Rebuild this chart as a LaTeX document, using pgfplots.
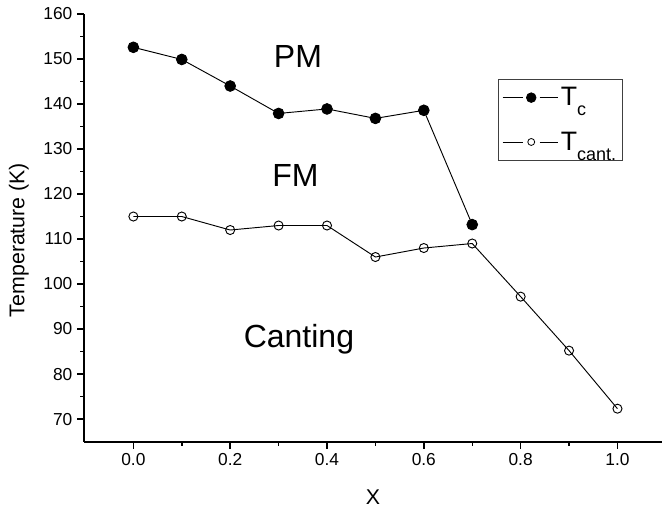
\documentclass[border=0pt]{standalone}
\usepackage{fontspec}
\setmainfont{Liberation Sans}
\usepackage{pgfplots}
\pgfplotsset{compat=1.18}

\newcommand{\setfs}[1]{\fontsize{#1}{#1}\selectfont}

\begin{document}
\begin{tikzpicture}
  \begin{axis}[
    at={(0,0)}, anchor=south west,
    scale only axis,
    width=433.5pt, height=321pt,
    clip=false,
    xmin=-0.102, xmax=1.092,
    ymin=64.9, ymax=160,
    axis lines=left,
    axis line style={-, line width=1.4pt},
    xtick={0,0.2,0.4,0.6,0.8,1.0},
    ytick={70,80,90,100,110,120,130,140,150,160},
    minor tick num=1,
    tick align=outside,
    major tick length=5.2pt,
    minor tick length=2.8pt,
    every tick/.style={black, line width=1.1pt},
    /pgf/number format/assume math mode=true,
    xticklabel style={/pgf/number format/.cd, fixed, fixed zerofill, precision=1},
    tick label style={font=\setfs{13}},
    legend style={at={(axis description cs:0.716,0.848)}, anchor=north west,
      draw=black!75, line width=0.6pt, inner xsep=3pt, inner ysep=4pt,
      row sep=14pt, font=\setfs{20}},
    legend cell align=left,
  ]
    \addlegendimage{legend image code/.code={
      \draw[black, line width=0.7pt] (0pt,0pt)--(15pt,0pt) (27.75pt,0pt)--(41.25pt,0pt);
      \fill[black] (21.4pt,0pt) circle (3.6pt);}}
    \addlegendentry{T\raisebox{-7.5pt}{\setfs{13.5}c}}
    \addlegendimage{legend image code/.code={
      \draw[black, line width=0.6pt] (0pt,0pt)--(15pt,0pt) (27.75pt,0pt)--(41.25pt,0pt);
      \draw[black, line width=0.6pt, fill=white] (21.4pt,0pt) circle (2.6pt);}}
    \addlegendentry{T\raisebox{-7.5pt}{\setfs{13.5}cant.}\hspace{2pt}}
    \addplot[forget plot, black, line width=0.7pt, mark=*, mark size=4pt,
      mark options={fill=black}] coordinates {
      (0.0,152.6) (0.1,149.9) (0.2,144.0) (0.3,137.9) (0.4,138.9)
      (0.5,136.8) (0.6,138.6) (0.7,113.2)
    };
    \addplot[forget plot, black, line width=0.7pt, mark=o, mark size=3.4pt,
      mark options={fill=white}] coordinates {
      (0.0,115.0) (0.1,115.0) (0.2,112.0) (0.3,113.0) (0.4,113.0)
      (0.5,106.0) (0.6,108.0) (0.7,109.0) (0.8,97.2) (0.9,85.2) (1.0,72.3)
    };
    \node[anchor=base, font=\setfs{24}] at (axis cs:0.340,148.2) {PM};
    \node[anchor=base, font=\setfs{24}] at (axis cs:0.335,121.6) {FM};
    \node[anchor=base, font=\setfs{24}] at (axis cs:0.342,86.0) {Canting};
    \node[font=\setfs{16}] at (axis description cs:0.5,-0.13) {X};
    \node[font=\setfs{16}, rotate=90] at (axis description cs:-0.1125,0.472) {Temperature (K)};
  \end{axis}
  \pgfresetboundingbox
  \path[use as bounding box] (-63pt,-51pt) rectangle (433.5pt,331.5pt);
\end{tikzpicture}
\end{document}
